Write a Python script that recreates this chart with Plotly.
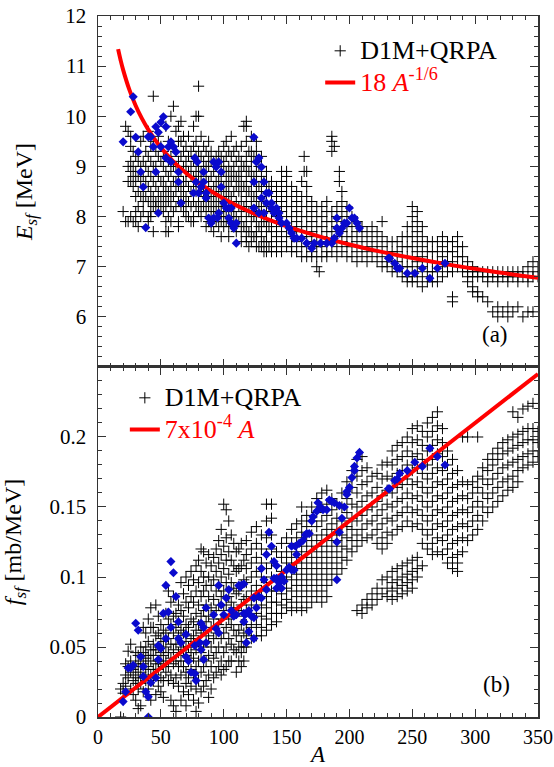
import plotly.graph_objects as go

# ---------------- DATA ----------------
# Panel (a): D1M+QRPA crosses, grouped by mass number A -> list of E_sf [MeV]
top_cross = {
    20: [8.1], 22: [7.9, 9.8], 24: [9.7, 9.0, 8.7, 7.9], 26: [9.6, 9.4, 9.1, 8.9, 8.7, 8.0],
    28: [9.3, 9.0, 8.8, 8.6, 7.9], 30: [9.2, 8.9, 8.7, 8.4, 8.1, 7.9], 32: [9.1, 8.8, 8.5, 8.2, 7.8],
    34: [9.5, 9.0, 8.7, 8.4, 8.0], 36: [9.6, 9.1, 8.8, 8.5, 8.3, 8.1], 38: [9.3, 9.0, 8.7, 8.4],
    40: [9.7, 9.2, 8.9, 8.6, 8.3, 8.0, 7.9], 42: [9.4, 9.1, 8.8, 8.5, 8.3, 8.1, 8.0],
    44: [10.4, 9.5, 9.0, 8.7, 8.4, 8.2, 7.7], 46: [9.3, 9.0, 8.6, 8.3, 8.2],
    48: [9.6, 9.2, 8.8, 8.5, 8.3, 8.1], 50: [9.4, 9.1, 8.7, 8.4, 8.2], 52: [9.3, 9.0, 8.7, 8.5, 8.3, 8.1],
    54: [9.8, 9.2, 8.9, 8.6, 8.4, 8.2, 7.9, 7.7], 56: [9.5, 9.1, 8.8, 8.5, 8.3, 8.0, 7.7],
    58: [10.0, 9.2, 8.9, 8.6, 8.4, 8.2, 7.9], 60: [10.2, 9.4, 9.0, 8.7, 8.4, 8.1],
    62: [9.7, 9.3, 9.0, 8.7, 8.5, 8.2], 64: [9.8, 9.5, 9.1, 8.8, 8.6, 8.3, 7.9, 7.8],
    66: [9.9, 9.5, 9.2, 8.9, 8.6, 8.4, 8.2], 68: [9.6, 9.3, 9.0, 8.7, 8.5, 8.3, 8.1],
    70: [9.4, 9.1, 8.9, 8.7, 8.4, 8.2, 8.0], 72: [9.6, 9.2, 8.9, 8.6, 8.3, 8.0],
    74: [9.3, 9.0, 8.8, 8.5, 8.2, 7.9], 76: [9.8, 9.4, 9.1, 8.8, 8.6, 8.3, 8.0, 7.9],
    78: [10.0, 9.5, 9.2, 8.9, 8.7, 8.5, 8.2], 80: [10.6, 10.0, 9.3, 9.0, 8.8, 8.6, 8.3, 8.1],
    82: [9.6, 9.2, 8.9, 8.7, 8.5, 8.2, 8.0], 84: [9.4, 9.1, 8.9, 8.6, 8.4, 8.2],
    86: [9.3, 9.0, 8.8, 8.5, 8.3, 8.1, 7.8], 88: [9.5, 9.2, 9.0, 8.7, 8.4, 8.2, 7.9],
    90: [9.3, 9.1, 8.8, 8.5, 8.3, 8.1, 7.8], 92: [9.1, 8.9, 8.6, 8.4, 8.2, 8.0, 7.7],
    94: [9.2, 9.0, 8.7, 8.5, 8.3, 8.1, 7.9], 96: [9.3, 9.1, 8.8, 8.6, 8.4, 8.2, 8.0, 7.8],
    98: [9.2, 9.0, 8.7, 8.5, 8.3, 8.1, 7.9, 7.6], 100: [9.4, 9.1, 8.9, 8.6, 8.4, 8.2, 8.0, 7.8],
    102: [9.5, 9.2, 8.9, 8.7, 8.5, 8.3, 8.1, 7.9], 104: [9.3, 9.0, 8.8, 8.6, 8.4, 8.2, 8.0, 7.8, 7.6],
    106: [9.6, 9.2, 8.9, 8.7, 8.4, 8.1, 7.9], 108: [9.3, 9.0, 8.8, 8.5, 8.2, 8.0, 7.8],
    110: [9.4, 9.1, 8.8, 8.6, 8.3, 8.0, 7.7], 112: [9.2, 8.9, 8.7, 8.5, 8.2, 7.9],
    114: [9.4, 9.1, 8.9, 8.7, 8.5, 8.3, 8.1, 7.9, 7.7, 7.5],
    116: [9.8, 9.0, 8.6, 8.2, 7.8],
    118: [9.9, 9.8, 9.5, 9.2, 9.0, 8.8, 8.6, 8.4, 8.2, 8.0, 7.8, 7.6, 7.5],
    120: [9.3, 8.9, 8.5, 8.1, 7.7, 7.4],
    122: [9.6, 9.3, 9.1, 8.9, 8.7, 8.5, 8.3, 8.1, 7.9, 7.7, 7.5],
    124: [9.2, 8.8, 8.4, 8.0, 7.6],
    126: [9.5, 9.3, 9.1, 8.9, 8.7, 8.5, 8.3, 8.1, 7.9, 7.7, 7.6, 7.4],
    128: [9.0, 8.6, 8.2, 7.8, 7.4],
    130: [9.2, 9.0, 8.8, 8.6, 8.4, 8.2, 8.0, 7.8, 7.6, 7.4],
    132: [8.7, 8.3, 7.9, 7.5, 7.3],
    134: [8.9, 8.7, 8.5, 8.3, 8.1, 7.9, 7.7, 7.5, 7.3],
    136: [8.6, 8.2, 7.8, 7.4],
    138: [8.7, 8.5, 8.3, 8.1, 7.9, 7.7, 7.5, 7.3],
    142: [8.6, 8.4, 8.2, 8.0, 7.8, 7.6, 7.4, 7.3],
    146: [8.9, 8.7, 8.5, 8.3, 8.1, 7.9, 7.7, 7.5, 7.3],
    150: [8.9, 8.8, 8.6, 8.4, 8.2, 8.0, 7.8, 7.6, 7.4],
    154: [8.6, 8.4, 8.2, 8.0, 7.8, 7.6, 7.4, 7.3],
    158: [8.5, 8.3, 8.1, 7.9, 7.7, 7.5, 7.3],
    162: [8.7, 8.4, 8.2, 8.0, 7.8, 7.6, 7.4, 7.2],
    164: [9.2, 8.9],
    166: [8.9, 8.6, 8.4, 8.2, 8.0, 7.8, 7.6, 7.4, 7.2],
    170: [8.3, 8.1, 7.9, 7.7, 7.5, 7.3, 7.2],
    174: [8.2, 8.0, 7.8, 7.6, 7.4, 7.2, 7.0],
    176: [6.9],
    178: [8.2, 8.0, 7.8, 7.6, 7.4, 7.2],
    182: [8.3, 8.1, 7.9, 7.7, 7.5, 7.3, 7.2],
    186: [9.6, 9.5, 9.3, 8.1, 7.9, 7.7, 7.5, 7.3],
    188: [9.4],
    190: [8.2, 8.0, 7.8, 7.6, 7.4, 7.2],
    192: [8.9, 8.7],
    194: [8.5, 8.3, 8.1, 7.9, 7.7, 7.5, 7.3],
    198: [8.2, 8.0, 7.8, 7.6, 7.4, 7.2],
    202: [8.0, 7.8, 7.6, 7.4, 7.2],
    206: [7.9, 7.7, 7.5, 7.3, 7.1],
    210: [7.8, 7.6, 7.4, 7.2],
    214: [7.7, 7.5, 7.3, 7.1],
    218: [7.8, 7.6, 7.4, 7.2],
    222: [7.7, 7.5, 7.3, 7.1],
    226: [7.9, 7.6, 7.4, 7.2, 7.0],
    230: [7.5, 7.3, 7.1, 7.0],
    234: [7.5, 7.3, 7.1, 6.9],
    238: [7.5, 7.3, 7.1, 6.9],
    242: [7.6, 7.4, 7.2, 7.0, 6.8],
    246: [7.8, 7.6, 7.4, 7.2, 7.0, 6.8, 6.7],
    250: [8.2, 8.0, 7.8, 7.6, 7.4, 7.2, 7.0, 6.8, 6.7],
    254: [8.1, 7.9, 7.7, 7.5, 7.3, 7.1, 6.9, 6.7],
    258: [7.8, 7.6, 7.4, 7.2, 7.0, 6.8, 6.6],
    262: [7.5, 7.3, 7.1, 6.9, 6.7],
    266: [7.5, 7.3, 7.1, 6.9, 6.7],
    270: [7.5, 7.3, 7.1, 6.9, 6.7],
    274: [7.6, 7.4, 7.2, 7.0, 6.8],
    278: [7.5, 7.3, 7.1, 6.9],
    282: [7.5, 7.3, 7.1, 6.9, 6.4, 6.3],
    286: [7.6, 7.4, 7.2, 7.0],
    290: [7.4, 7.2, 7.0, 6.9],
    294: [7.1, 7.0, 6.9, 6.8, 6.7],
    298: [7.0, 6.9, 6.8, 6.6, 6.5],
    302: [6.9, 6.8, 6.5, 6.4],
    306: [6.9, 6.8, 6.4],
    310: [6.9, 6.8, 6.7, 6.3],
    314: [6.9, 6.8, 6.1],
    318: [6.9, 6.8, 6.7, 6.2, 6.0],
    322: [6.9, 6.8, 6.1],
    326: [6.9, 6.8, 6.7, 6.2, 6.0],
    330: [6.9, 6.8, 6.1],
    334: [6.9, 6.8, 6.7, 6.2],
    338: [6.9, 6.8, 6.0],
    342: [7.0, 6.8, 6.7, 6.1],
    346: [7.1, 6.9, 6.8, 6.1],
    350: [7.0, 6.8],
}

# Panel (a): highlighted nuclei (blue diamonds)
top_blue_A = [28, 26, 20, 30, 32, 34, 36, 38, 48, 46, 40, 42, 44, 46, 48, 50, 52, 54, 50, 54,
              56, 58, 60, 62, 58, 64, 64, 66, 77, 79, 84, 78, 82, 84, 76, 80, 86, 86, 88, 90,
              92, 95, 92, 94, 96, 98, 98, 96, 100, 102, 104, 106, 104, 106, 108, 110, 110,
              124, 126, 128, 130, 124, 132, 130, 124, 128, 132, 134, 136, 134, 138, 138, 140,
              142, 144, 144, 146, 150, 152, 154, 156, 158, 162, 166, 170, 172, 177, 182, 186,
              188, 190, 190, 192, 194, 196, 198, 200, 202, 204, 206, 208, 231,
              232, 236, 238, 240, 246, 252, 258, 264, 270, 276]
top_blue_E = [10.39, 10.09, 9.49, 9.58, 9.29, 8.89, 8.59, 7.78, 8.07, 8.89, 9.59, 9.59, 9.39,
              9.79, 9.68, 9.88, 9.99, 9.79, 9.39, 9.17, 9.39, 9.49, 9.39, 9.29, 9.09, 8.89,
              8.69, 8.27, 9.17, 9.09, 8.89, 8.69, 8.59, 8.69, 8.47, 8.47, 8.47, 8.37, 7.97,
              7.87, 7.97, 7.97, 9.09, 8.99, 9.09, 8.89, 8.59, 8.07, 8.27, 8.17, 8.17, 8.17,
              7.97, 7.87, 7.77, 7.87, 7.47,
              9.58, 9.09, 9.17, 8.99, 8.69, 8.69, 8.37, 8.17, 8.07, 8.07, 8.47, 8.47, 8.27,
              8.27, 8.17, 8.07, 8.17, 8.07, 7.97, 7.87, 7.87, 7.77, 7.67, 7.57, 7.57, 7.57,
              7.47, 7.37, 7.47, 7.47, 7.47, 7.47, 7.57, 7.97, 7.77, 7.67, 7.77, 7.87, 7.87,
              8.17, 7.97, 7.97, 7.87, 7.77, 7.17,
              7.17, 7.07, 6.97, 6.97, 6.87, 6.87, 6.97, 6.77, 6.97, 7.07]

# Panel (a): fit curve 18 A^-1/6 (values tabulated)
fit_a_A = [16, 18, 20, 25, 30, 35, 40, 45, 50, 60, 70, 80, 100, 120, 140, 160, 180, 200,
           220, 250, 280, 310, 350]
fit_a_E = [11.339, 11.119, 10.926, 10.526, 10.211, 9.952, 9.733, 9.544, 9.378, 9.097, 8.867,
           8.671, 8.355, 8.105, 7.899, 7.725, 7.575, 7.443, 7.326, 7.172, 7.037, 6.919, 6.780]

# Panel (b): D1M+QRPA crosses, A -> list of f_sf [mb/MeV]
bot_cross = {
    18: [0.020, 0.0], 20: [0.024, 0.017], 22: [0.038, 0.030, 0.022], 24: [0.036, 0.028, 0.047],
    26: [0.052, 0.040, 0.032, 0.020], 28: [0.034, 0.026, 0.016],
    30: [0.046, 0.038, 0.030, 0.024, 0.012], 32: [0.044, 0.036, 0.028, 0.020, 0.006],
    34: [0.050, 0.040, 0.032, 0.024, 0.008], 36: [0.064, 0.046, 0.038, 0.028, 0.018],
    38: [0.060, 0.050, 0.042, 0.034, 0.026], 40: [0.070, 0.054, 0.044, 0.036, 0.028, 0.020],
    42: [0.078, 0.064, 0.048, 0.040, 0.030, 0.012], 44: [0.064, 0.052, 0.044, 0.034, 0.026],
    46: [0.080, 0.058, 0.048, 0.038, 0.030, 0.016], 48: [0.072, 0.060, 0.050, 0.040, 0.034, 0.022],
    50: [0.066, 0.056, 0.046, 0.038, 0.028, 0.018], 52: [0.062, 0.054, 0.044, 0.036, 0.026, 0.014],
    54: [0.074, 0.060, 0.050, 0.040, 0.032], 56: [0.090, 0.070, 0.056, 0.046, 0.036, 0.026],
    58: [0.082, 0.066, 0.052, 0.042, 0.030, 0.012],
    60: [0.086, 0.072, 0.060, 0.048, 0.038, 0.024, 0.008],
    62: [0.074, 0.064, 0.052, 0.040, 0.028, 0.004],
    64: [0.080, 0.068, 0.058, 0.046, 0.036, 0.022],
    66: [0.096, 0.076, 0.062, 0.050, 0.040, 0.030, 0.012],
    68: [0.088, 0.072, 0.060, 0.048, 0.036, 0.018],
    70: [0.100, 0.082, 0.066, 0.054, 0.044, 0.032, 0.024, 0.008],
    72: [0.094, 0.078, 0.064, 0.050, 0.040, 0.028, 0.016],
    74: [0.104, 0.086, 0.070, 0.056, 0.046, 0.034, 0.022],
    76: [0.098, 0.082, 0.068, 0.058, 0.042, 0.030, 0.012],
    78: [0.108, 0.090, 0.074, 0.062, 0.048, 0.036, 0.020, 0.004],
    80: [0.112, 0.096, 0.080, 0.066, 0.054, 0.040, 0.026, 0.010],
    82: [0.120, 0.104, 0.086, 0.072, 0.060, 0.046, 0.032, 0.018],
    84: [0.118, 0.100, 0.090, 0.076, 0.062, 0.050, 0.036, 0.022],
    86: [0.110, 0.094, 0.080, 0.068, 0.054, 0.040, 0.026],
    88: [0.116, 0.100, 0.086, 0.072, 0.058, 0.044, 0.030, 0.014],
    90: [0.108, 0.094, 0.078, 0.064, 0.050, 0.036, 0.020],
    92: [0.114, 0.098, 0.084, 0.070, 0.056, 0.042, 0.028],
    94: [0.120, 0.104, 0.090, 0.076, 0.060, 0.046, 0.032],
    96: [0.126, 0.110, 0.094, 0.080, 0.066, 0.050, 0.036],
    98: [0.134, 0.116, 0.100, 0.086, 0.070, 0.056, 0.040, 0.030],
    100: [0.152, 0.122, 0.106, 0.090, 0.076, 0.060, 0.046, 0.034],
    102: [0.148, 0.128, 0.112, 0.096, 0.080, 0.064, 0.050, 0.036],
    104: [0.140, 0.118, 0.102, 0.086, 0.070, 0.056, 0.040],
    106: [0.130, 0.112, 0.096, 0.082, 0.066, 0.052, 0.040],
    108: [0.124, 0.108, 0.092, 0.078, 0.062, 0.048],
    110: [0.118, 0.104, 0.088, 0.074, 0.058, 0.046, 0.032],
    112: [0.120, 0.106, 0.090, 0.076, 0.062, 0.050, 0.040],
    114: [0.124, 0.108, 0.094, 0.080, 0.066, 0.054, 0.046, 0.036],
    116: [0.112, 0.098, 0.084, 0.072, 0.060, 0.050, 0.040],
    118: [0.126, 0.116, 0.106, 0.096, 0.086, 0.076, 0.066, 0.058, 0.050],
    122: [0.132, 0.120, 0.110, 0.100, 0.090, 0.080, 0.072, 0.064, 0.056],
    126: [0.136, 0.124, 0.114, 0.104, 0.094, 0.084, 0.074, 0.066, 0.058],
    130: [0.130, 0.120, 0.110, 0.100, 0.090, 0.080, 0.072, 0.064, 0.058],
    134: [0.152, 0.140, 0.128, 0.116, 0.106, 0.096, 0.086, 0.078, 0.070, 0.062],
    138: [0.152, 0.142, 0.130, 0.120, 0.110, 0.100, 0.090, 0.082, 0.074, 0.066],
    142: [0.118, 0.108, 0.098, 0.090, 0.082, 0.074, 0.068],
    146: [0.124, 0.114, 0.104, 0.096, 0.088, 0.080, 0.074],
    150: [0.128, 0.118, 0.110, 0.100, 0.092, 0.084, 0.078],
    154: [0.134, 0.124, 0.114, 0.106, 0.098, 0.090, 0.082, 0.076],
    158: [0.138, 0.128, 0.118, 0.110, 0.102, 0.094, 0.086, 0.078],
    162: [0.150, 0.140, 0.132, 0.122, 0.114, 0.106, 0.098, 0.090, 0.082, 0.076],
    166: [0.144, 0.136, 0.126, 0.118, 0.110, 0.102, 0.094, 0.086, 0.078],
    170: [0.150, 0.140, 0.130, 0.122, 0.114, 0.106, 0.098, 0.090, 0.082],
    174: [0.156, 0.146, 0.136, 0.126, 0.118, 0.110, 0.102, 0.094, 0.086],
    178: [0.160, 0.150, 0.140, 0.130, 0.122, 0.114, 0.106, 0.098, 0.090, 0.082],
    182: [0.162, 0.152, 0.144, 0.134, 0.126, 0.118, 0.110, 0.102, 0.094, 0.086],
    186: [0.156, 0.148, 0.138, 0.130, 0.122, 0.114, 0.106, 0.098],
    190: [0.152, 0.142, 0.134, 0.126, 0.118, 0.110, 0.102],
    194: [0.160, 0.150, 0.140, 0.130, 0.122, 0.114, 0.106],
    198: [0.168, 0.156, 0.146, 0.136, 0.128, 0.120, 0.112],
    202: [0.176, 0.164, 0.152, 0.142, 0.134, 0.126, 0.118],
    206: [0.184, 0.172, 0.160, 0.150, 0.140, 0.130, 0.122, 0.076],
    210: [0.186, 0.176, 0.166, 0.154, 0.144, 0.134, 0.126, 0.080, 0.074],
    214: [0.178, 0.168, 0.158, 0.148, 0.138, 0.128, 0.084, 0.078],
    218: [0.172, 0.160, 0.150, 0.140, 0.130, 0.088, 0.080],
    222: [0.174, 0.164, 0.154, 0.144, 0.134, 0.124, 0.092, 0.084],
    226: [0.180, 0.170, 0.158, 0.148, 0.138, 0.128, 0.120, 0.098, 0.088],
    230: [0.182, 0.172, 0.162, 0.152, 0.142, 0.132, 0.124, 0.100, 0.092, 0.086],
    234: [0.190, 0.180, 0.170, 0.160, 0.150, 0.140, 0.130, 0.104, 0.096, 0.090, 0.084],
    238: [0.194, 0.184, 0.174, 0.164, 0.154, 0.144, 0.134, 0.106, 0.098, 0.092, 0.086],
    242: [0.196, 0.186, 0.176, 0.166, 0.156, 0.146, 0.136, 0.108, 0.100, 0.094, 0.088],
    246: [0.200, 0.190, 0.180, 0.170, 0.160, 0.150, 0.140, 0.110, 0.102, 0.096, 0.090],
    250: [0.206, 0.196, 0.186, 0.176, 0.166, 0.156, 0.146, 0.136, 0.112, 0.104, 0.098, 0.092],
    254: [0.208, 0.198, 0.188, 0.178, 0.168, 0.158, 0.148, 0.138, 0.114, 0.106, 0.100],
    258: [0.204, 0.194, 0.184, 0.174, 0.164, 0.154, 0.144, 0.134, 0.124, 0.108],
    262: [0.210, 0.200, 0.190, 0.180, 0.170, 0.160, 0.150, 0.140, 0.130, 0.120],
    266: [0.214, 0.204, 0.194, 0.184, 0.174, 0.164, 0.154, 0.144, 0.134, 0.124, 0.116],
    270: [0.218, 0.208, 0.198, 0.188, 0.178, 0.168, 0.158, 0.148, 0.138, 0.128, 0.118],
    274: [0.206, 0.196, 0.186, 0.176, 0.166, 0.156, 0.146, 0.136, 0.126, 0.116],
    278: [0.190, 0.180, 0.170, 0.160, 0.150, 0.140, 0.130, 0.120, 0.110],
    282: [0.184, 0.174, 0.164, 0.154, 0.144, 0.134, 0.124, 0.114, 0.106],
    286: [0.176, 0.166, 0.156, 0.146, 0.136, 0.126, 0.116, 0.110, 0.104],
    290: [0.200, 0.168, 0.158, 0.148, 0.138, 0.128, 0.118],
    294: [0.200, 0.166, 0.156, 0.146, 0.136, 0.126],
    298: [0.168, 0.160, 0.150, 0.140, 0.130],
    302: [0.200, 0.172, 0.164, 0.154, 0.144, 0.134],
    306: [0.178, 0.170, 0.160, 0.150, 0.140],
    310: [0.184, 0.176, 0.166, 0.156, 0.146],
    314: [0.188, 0.180, 0.170, 0.160, 0.150],
    318: [0.192, 0.184, 0.174, 0.164, 0.154],
    322: [0.196, 0.188, 0.178, 0.168, 0.158],
    326: [0.198, 0.190, 0.180, 0.170, 0.162],
    330: [0.218, 0.200, 0.192, 0.182, 0.172, 0.164],
    334: [0.214, 0.202, 0.194, 0.184, 0.176, 0.168],
    338: [0.220, 0.204, 0.196, 0.186, 0.178],
    342: [0.222, 0.206, 0.198, 0.188, 0.180],
    346: [0.224, 0.206, 0.198, 0.190, 0.182],
    350: [0.204, 0.196, 0.186],
}

# Panel (b): highlighted nuclei (blue diamonds)
bot_blue_A = [20, 22, 24, 26, 28, 30, 32, 34, 36, 36, 38, 40, 40, 42, 46, 48, 48, 50, 52, 54,
              54, 56, 58, 58, 60, 62, 64, 64, 66, 70, 70, 72, 74, 77, 78, 77, 81, 82, 84, 86,
              82, 84, 86, 92, 94, 96, 96, 98, 100, 102, 104, 106, 108, 110, 112, 114, 116, 117,
              113, 116, 116, 118, 120, 124, 122, 124, 120, 126, 124, 128, 130, 132, 134, 136,
              138, 134, 130, 140, 142, 140, 142, 142, 144, 146, 148, 146, 150, 152, 154, 156,
              154, 157, 158, 160, 163, 165, 166, 168, 170, 171, 174, 175, 177, 179, 182, 184,
              186, 188, 192, 196, 194, 192, 190, 190, 198, 198, 200, 202, 204, 204, 206, 208,
              231, 232, 236, 238, 240, 246, 252, 258, 264, 270, 276]
bot_blue_f = [0.011, 0.018, 0.035, 0.035, 0.037, 0.067, 0.062, 0.043, 0.036, 0.029, 0.018,
              0.0145, 0.0, 0.0245, 0.028, 0.041, 0.051, 0.049, 0.074, 0.094, 0.056, 0.075,
              0.111, 0.064, 0.103, 0.086, 0.068, 0.056, 0.053, 0.059, 0.043, 0.040, 0.032,
              0.031, 0.026, 0.051, 0.053, 0.048, 0.041, 0.053, 0.067, 0.064, 0.078, 0.073,
              0.063, 0.094, 0.060, 0.080, 0.073, 0.085, 0.091, 0.076, 0.072, 0.073, 0.094,
              0.094, 0.095, 0.073,
              0.093, 0.074, 0.068, 0.053, 0.061, 0.056, 0.072, 0.071, 0.076, 0.078, 0.085,
              0.086, 0.085, 0.098, 0.091, 0.132, 0.122, 0.116, 0.106, 0.111, 0.108, 0.099,
              0.099, 0.092, 0.096, 0.092, 0.097, 0.100, 0.105, 0.107, 0.105, 0.105, 0.122,
              0.122, 0.116, 0.124, 0.126, 0.130, 0.131, 0.131, 0.140, 0.143, 0.147, 0.153,
              0.150, 0.148, 0.148, 0.155, 0.154, 0.153, 0.151, 0.150, 0.142, 0.132, 0.125,
              0.098, 0.159, 0.161, 0.164, 0.171, 0.176, 0.179, 0.185, 0.189,
              0.163, 0.163, 0.169, 0.170, 0.174, 0.176, 0.182, 0.179, 0.192, 0.186, 0.180]

# Panel (b): fit line 7x10^-4 A (values tabulated)
fit_b_A = [0, 350]
fit_b_f = [0.0, 0.245]

x_ticks = [0, 50, 100, 150, 200, 250, 300, 350]
top_y_ticks = [6, 7, 8, 9, 10, 11, 12]
bot_y_ticks = [0, 0.05, 0.1, 0.15, 0.2]
bot_y_labels = ["0", "0.05", "0.1", "0.15", "0.2"]


def flatten(cols):
    xs, ys = [], []
    for a, vals in cols.items():
        for v in vals:
            xs.append(a)
            ys.append(v)
    return xs, ys


tA, tE = flatten(top_cross)
bA, bF = flatten(bot_cross)

# ---------------- FIGURE ----------------
FONT = "Liberation Serif"
cross = dict(symbol="cross-thin", size=8, color="black", line=dict(width=1, color="black"))
diam = dict(symbol="diamond", size=7, color="#0a0acd", line=dict(width=0))
BIG = '<span style="font-size:26px">{}</span>'

fig = go.Figure()
fig.add_trace(go.Scatter(x=tA, y=tE, mode="markers", marker=cross, name=BIG.format("D1M+QRPA"),
                         xaxis="x", yaxis="y", legend="legend"))
fig.add_trace(go.Scatter(x=fit_a_A, y=fit_a_E, mode="lines",
                         line=dict(color="#ff0000", width=4, shape="spline"),
                         name='<span style="color:#ff0000;font-size:26px">18 <i>A</i><sup>-1/6</sup></span>',
                         xaxis="x", yaxis="y", legend="legend"))
fig.add_trace(go.Scatter(x=top_blue_A, y=top_blue_E, mode="markers", marker=diam, showlegend=False,
                         xaxis="x", yaxis="y"))

fig.add_trace(go.Scatter(x=bA, y=bF, mode="markers", marker=cross, name=BIG.format("D1M+QRPA"),
                         xaxis="x2", yaxis="y2", legend="legend2"))
fig.add_trace(go.Scatter(x=fit_b_A, y=fit_b_f, mode="lines", line=dict(color="#ff0000", width=4),
                         name='<span style="color:#ff0000;font-size:26px">7x10<sup>-4</sup> <i>A</i></span>',
                         xaxis="x2", yaxis="y2", legend="legend2"))
fig.add_trace(go.Scatter(x=bot_blue_A, y=bot_blue_f, mode="markers", marker=diam, showlegend=False,
                         xaxis="x2", yaxis="y2"))

axis_common = dict(showgrid=False, zeroline=False, showline=True, linecolor="#333", linewidth=1.5,
                   mirror="ticks", ticks="inside", ticklen=8, tickwidth=1, tickcolor="#333",
                   automargin=False, ticklabeloverflow="allow",
                   tickfont=dict(family=FONT, size=21, color="black"))

split = 0.4993
fig.update_layout(
    width=554, height=767,
    margin=dict(l=98, r=16, t=16, b=50),
    paper_bgcolor="white", plot_bgcolor="white",
    font=dict(family=FONT, color="black"),
    hovermode=False,
    xaxis=dict(axis_common, domain=[0, 1], range=[0, 350], anchor="y", tickvals=x_ticks,
               showticklabels=False,
               minor=dict(dtick=10, tick0=0, ticks="inside", ticklen=4, tickcolor="#333")),
    yaxis=dict(axis_common, domain=[split, 1], range=[5, 12], anchor="x", tickvals=top_y_ticks,
               ticklabelstandoff=6,
               minor=dict(dtick=0.2, tick0=5, ticks="inside", ticklen=4, tickcolor="#333"),
               title=dict(text="<i>E</i><sub><i>sf</i></sub> [MeV]",
                          font=dict(family=FONT, size=24), standoff=26)),
    xaxis2=dict(axis_common, domain=[0, 1], range=[0, 350], anchor="y2", tickvals=x_ticks,
                ticklabelstandoff=1, tickfont=dict(family=FONT, size=20, color="black"),
                minor=dict(dtick=10, tick0=0, ticks="inside", ticklen=4, tickcolor="#333"),
                title=dict(text="<i>A</i>", font=dict(family=FONT, size=23), standoff=0)),
    yaxis2=dict(axis_common, domain=[0, split], range=[0, 0.25], anchor="x2", tickvals=bot_y_ticks,
                ticktext=bot_y_labels, ticklabelstandoff=6,
                minor=dict(dtick=0.01, tick0=0, ticks="inside", ticklen=4, tickcolor="#333"),
                title=dict(text="<i>f</i><sub><i>sf</i></sub> [mb/MeV]",
                           font=dict(family=FONT, size=24), standoff=26)),
    legend=dict(x=0.505, y=0.98, xanchor="left", yanchor="top", bgcolor="rgba(0,0,0,0)",
                font=dict(family=FONT, size=22, color="black"), tracegroupgap=0),
    legend2=dict(x=0.061, y=0.485, xanchor="left", yanchor="top", bgcolor="rgba(0,0,0,0)",
                 font=dict(family=FONT, size=22, color="black"), tracegroupgap=0),
    annotations=[
        dict(x=316, y=5.65, xref="x", yref="y", text="(a)", showarrow=False,
             font=dict(family=FONT, size=23, color="black")),
        dict(x=317, y=0.023, xref="x2", yref="y2", text="(b)", showarrow=False,
             font=dict(family=FONT, size=23, color="black")),
    ],
)

# remove the browser's default 8px body margin so the figure fills the window exactly
fig.write_html("out.html", config={"displayModeBar": False, "staticPlot": True},
               post_script="document.body.style.margin='0';")
